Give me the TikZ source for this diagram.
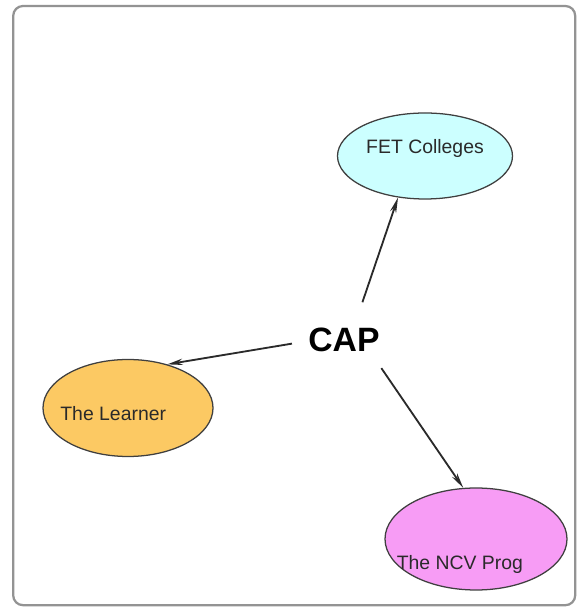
\documentclass[tikz,border=0pt]{standalone}
\usepackage{fontspec}
\setmainfont{Liberation Sans}
\usepackage{tikz}
\usetikzlibrary{arrows.meta, shapes}

\definecolor{fetcyan}{HTML}{CCFFFF}
\definecolor{learnerorange}{HTML}{FCC963}
\definecolor{ncvpink}{HTML}{F79CF5}
\definecolor{inkgrey}{HTML}{2A2A2A}

\begin{document}
\begin{tikzpicture}
\useasboundingbox (0,0) rectangle (14.475,15.25);
\draw [rounded corners=7pt, draw=gray!85, line width=1.6pt] (0.33,0.12) rectangle (14.38,15.1);

%\tikzstyle{bubble}=[ellipse,draw,thin]
\begin{scope}[every node/.style={ellipse,draw=inkgrey!90,line width=0.9pt,inner sep=0pt,text=inkgrey,font=\fontsize{13.8}{16}\selectfont}]
    \node [fill=fetcyan, minimum width=4.375cm, minimum height=2.15cm, text height=0pt, text depth=4pt] (fet) at (10.625,11.35) {FET Colleges};
    \node [fill=learnerorange, minimum width=4.25cm, minimum height=2.425cm, text height=18pt, text depth=0pt] (learner) at (3.2,5.05) {\hspace*{-21pt}The Learner};
    \node [fill=ncvpink, minimum width=4.55cm, minimum height=2.55cm, text height=44pt, text depth=0pt] (ncv) at (11.9,1.775) {\hspace*{-23pt}The NCV Prog};
\end{scope}
\node [ellipse, inner sep=0pt, minimum width=2.6cm, minimum height=2cm, font=\fontsize{24}{28}\selectfont\bfseries] (cap) at (8.6,6.75) {CAP};

\begin{scope}[>={Stealth[length=11pt,width=4.5pt]},every edge/.style={draw=inkgrey,line width=1.3pt}]
    \path [->] (cap.64) edge (fet.237);
    \path [->] (cap.184) edge (learner.48);
    \path [->] (cap.-37) edge (ncv.104);
\end{scope}
\end{tikzpicture}
\end{document}
